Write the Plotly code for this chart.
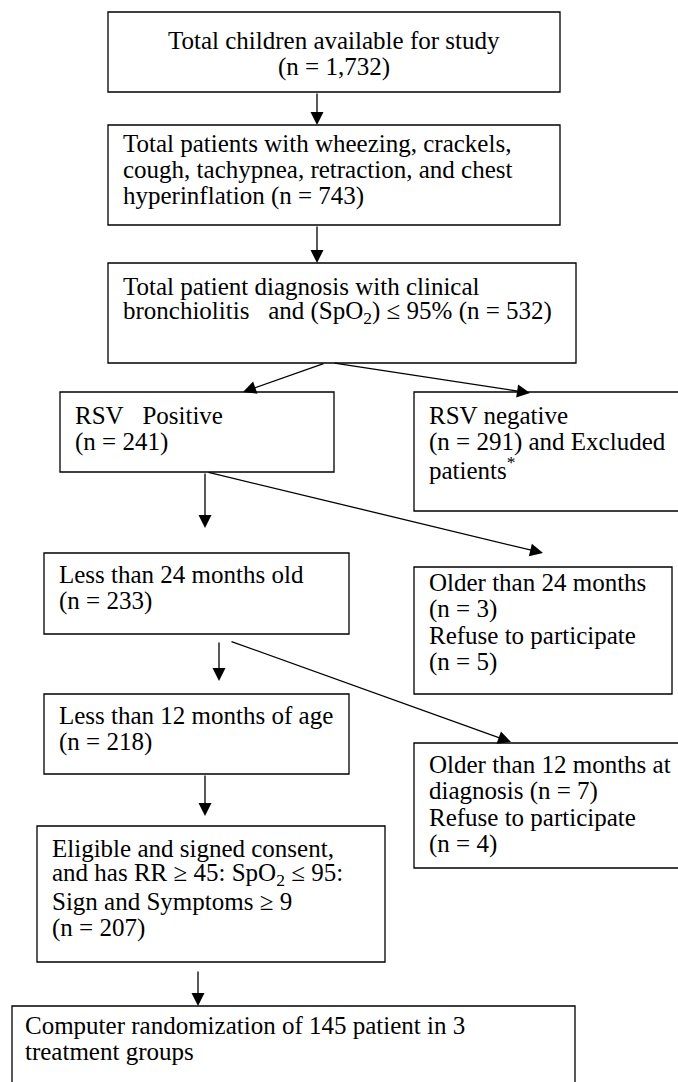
import plotly.graph_objects as go

# ---- data: flowchart stages (text lines) ----
stage_names = ["total", "symptoms", "diagnosis", "rsv_pos", "rsv_neg", "lt24", "gt24",
               "lt12", "gt12", "eligible", "randomized"]
stage_counts = [1732, 743, 532, 241, 291, 233, 3, 218, 7, 207, 145]
stage_lines = [
    ["Total children available for study", "(n = 1,732)"],
    ["Total patients with wheezing, crackels,", "cough, tachypnea, retraction, and chest",
     "hyperinflation (n = 743)"],
    ["Total patient diagnosis with clinical",
     "bronchiolitis\u00a0\u00a0 and (SpO<sub>2</sub>) \u2264 95% (n = 532)"],
    ["RSV\u00a0\u00a0 Positive", "(n = 241)"],
    ["RSV negative", "(n = 291) and Excluded", "patients<sup>*</sup>"],
    ["Less than 24 months old", "(n = 233)"],
    ["Older than 24 months", "(n = 3)", "Refuse to participate", "(n = 5)"],
    ["Less than 12 months of age", "(n = 218)"],
    ["Older than 12 months at", "diagnosis (n = 7)", "Refuse to participate", "(n = 4)"],
    ["Eligible and signed consent,", "and has RR \u2265 45: SpO<sub>2</sub> \u2264 95:",
     "Sign and Symptoms \u2265 9", "(n = 207)"],
    ["Computer randomization of 145 patient in 3", "treatment groups"],
]
# flow links (from stage, to stage)
links = [("total", "symptoms"), ("symptoms", "diagnosis"), ("diagnosis", "rsv_pos"),
         ("diagnosis", "rsv_neg"), ("rsv_pos", "lt24"), ("rsv_pos", "gt24"),
         ("lt24", "lt12"), ("lt24", "gt12"), ("lt12", "eligible"), ("eligible", "randomized")]

# ---- layout (pixel geometry, page coordinates) ----
W, H = 678, 1082
box_geom = {
    "total":      (108, 560, 12, 92),
    "symptoms":   (108, 560, 125, 225),
    "diagnosis":  (108, 576, 263, 363),
    "rsv_pos":    (60, 334, 392, 472),
    "rsv_neg":    (414, 720, 392, 511),
    "lt24":       (44, 349, 553, 634),
    "gt24":       (414, 672, 567, 694),
    "lt12":       (44, 349, 694, 774),
    "gt12":       (414, 720, 743, 868),
    "eligible":   (37, 385, 826, 962),
    "randomized": (12, 575, 1006, 1130),
}
text_geom = {
    "total":      (334, 48, "center"),
    "symptoms":   (122, 151, "left"),
    "diagnosis":  (122, 294, "left"),
    "rsv_pos":    (74, 423, "left"),
    "rsv_neg":    (428, 423, "left"),
    "lt24":       (58, 582, "left"),
    "gt24":       (428, 590, "left"),
    "lt12":       (58, 723, "left"),
    "gt12":       (428, 772, "left"),
    "eligible":   (51, 856, "left"),
    "randomized": (24, 1033, "left"),
}
line_step = 26.6
link_geom = [  # (x_from, y_from, x_to, y_to)
    (317, 92, 317, 125), (317, 225, 317, 263), (325, 363, 243, 392), (333, 363, 530, 393),
    (205, 472, 205, 528), (207, 472, 543, 553), (219, 641, 219, 681), (230, 641, 511, 742),
    (205, 774, 205, 816), (198, 970, 198, 1006),
]

FONT = dict(family="Liberation Serif, Times New Roman, serif", size=25, color="black")

fig = go.Figure()
fig.add_trace(go.Scatter(x=[0, W], y=[0, H], mode="markers",
                         marker=dict(opacity=0), hoverinfo="skip", showlegend=False))

shapes = []
annotations = []
for name, lines in zip(stage_names, stage_lines):
    x0, x1, y0, y1 = box_geom[name]
    shapes.append(dict(type="rect", xref="x", yref="y", x0=x0, x1=x1, y0=y0, y1=y1,
                       line=dict(color="black", width=1.3), fillcolor="rgba(0,0,0,0)"))
    tx, base, align = text_geom[name]
    for i, ln in enumerate(lines):
        annotations.append(dict(x=tx, y=base + i * line_step - 8, xref="x", yref="y",
                                text=ln, showarrow=False, font=FONT,
                                xanchor="center" if align == "center" else "left",
                                yanchor="middle", borderpad=0))

for (xa, ya, xb, yb) in link_geom:
    annotations.append(dict(x=xb, y=yb, ax=xa, ay=ya, xref="x", yref="y", axref="x", ayref="y",
                            text="", showarrow=True, arrowhead=2, arrowsize=2.0,
                            arrowwidth=1.3, arrowcolor="black", standoff=0))

fig.update_layout(
    width=W, height=H, margin=dict(l=0, r=0, t=0, b=0),
    paper_bgcolor="white", plot_bgcolor="white",
    xaxis=dict(range=[0, W], visible=False, fixedrange=True),
    yaxis=dict(range=[H, 0], visible=False, fixedrange=True),
    shapes=shapes, annotations=annotations, showlegend=False,
)
fig.write_html(
    "out.html",
    config={"displayModeBar": False, "staticPlot": True},
    post_script="document.body.style.margin='0';document.body.style.overflow='hidden';",
)
